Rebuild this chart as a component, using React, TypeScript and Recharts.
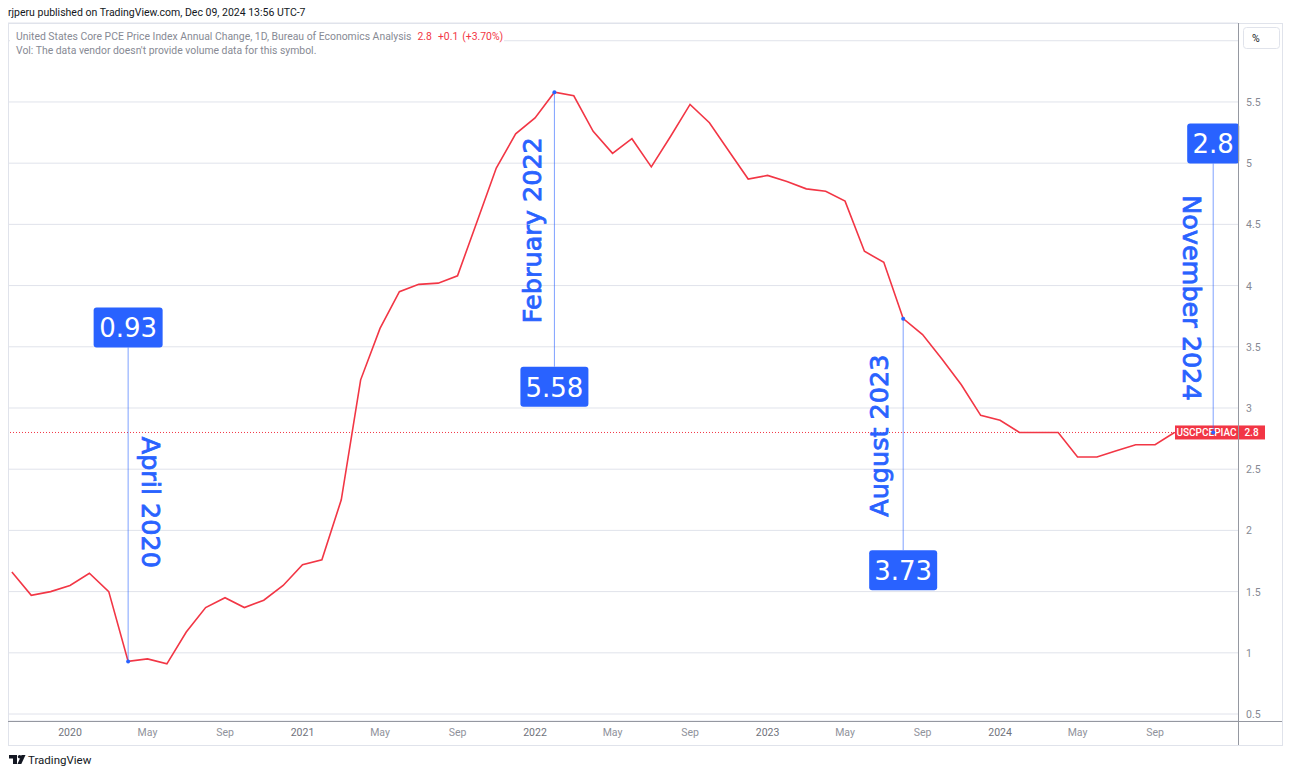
import React from "react";
import {
  LineChart,
  Line,
  XAxis,
  YAxis,
  CartesianGrid,
  ReferenceLine,
  ReferenceDot,
} from "recharts";

// ---------- DATA ----------
const months = [
  "2019-10", "2019-11", "2019-12",
  "2020-01", "2020-02", "2020-03", "2020-04", "2020-05", "2020-06",
  "2020-07", "2020-08", "2020-09", "2020-10", "2020-11", "2020-12",
  "2021-01", "2021-02", "2021-03", "2021-04", "2021-05", "2021-06",
  "2021-07", "2021-08", "2021-09", "2021-10", "2021-11", "2021-12",
  "2022-01", "2022-02", "2022-03", "2022-04", "2022-05", "2022-06",
  "2022-07", "2022-08", "2022-09", "2022-10", "2022-11", "2022-12",
  "2023-01", "2023-02", "2023-03", "2023-04", "2023-05", "2023-06",
  "2023-07", "2023-08", "2023-09", "2023-10", "2023-11", "2023-12",
  "2024-01", "2024-02", "2024-03", "2024-04", "2024-05", "2024-06",
  "2024-07", "2024-08", "2024-09", "2024-10",
];

const corePce = [
  1.66, 1.47, 1.5,
  1.55, 1.65, 1.5, 0.93, 0.95, 0.91,
  1.17, 1.37, 1.45, 1.37, 1.43, 1.55,
  1.72, 1.76, 2.25, 3.23, 3.65, 3.95,
  4.01, 4.02, 4.08, 4.52, 4.96, 5.24,
  5.37, 5.58, 5.55, 5.26, 5.08, 5.2,
  4.97, 5.22, 5.48, 5.33, 5.1, 4.87,
  4.9, 4.85, 4.79, 4.77, 4.69, 4.28,
  4.19, 3.73, 3.6, 3.4, 3.19, 2.94,
  2.9, 2.8, 2.8, 2.8, 2.6, 2.6,
  2.65, 2.7, 2.7, 2.8,
];

const xTickMonths = [
  "2020-01", "2020-05", "2020-09",
  "2021-01", "2021-05", "2021-09",
  "2022-01", "2022-05", "2022-09",
  "2023-01", "2023-05", "2023-09",
  "2024-01", "2024-05", "2024-09",
];
const xTickLabels = [
  "2020", "May", "Sep",
  "2021", "May", "Sep",
  "2022", "May", "Sep",
  "2023", "May", "Sep",
  "2024", "May", "Sep",
];

const yTicks = [0.5, 1, 1.5, 2, 2.5, 3, 3.5, 4, 4.5, 5, 5.5, 6];
const yTickLabels = ["0.5", "1", "1.5", "2", "2.5", "3", "3.5", "4", "4.5", "5", "5.5", ""];

const annotationMonths = ["2020-04", "2022-02", "2023-08", "2024-12"];
const annotationValues = [0.93, 5.58, 3.73, 2.8];
const annotationBoxText = ["0.93", "5.58", "3.73", "2.8"];
const annotationTitles = ["April 2020", "February 2022", "August 2023", "November 2024"];

const seriesSymbol = "USCPCEPIAC";
const lastValueText = "2.8";

// ---------- HELPERS ----------
const monthIndex = (m: string) => {
  const [y, mo] = m.split("-").map(Number);
  return (y - 2020) * 12 + (mo - 1);
};

const data = months.map((m, i) => ({ t: monthIndex(m), v: corePce[i] }));
const xTicks = xTickMonths.map(monthIndex);
const lastValue = corePce[corePce.length - 1];

// layout (pixels) for annotations
const annotationLayout = [
  { boxDy: -334, boxW: 69, textDx: 23, textDy: -159, rotate: 90 },
  { boxDy: 294.5, boxW: 68, textDx: -22, textDy: 138, rotate: -90 },
  { boxDy: 251.5, boxW: 68, textDx: -24, textDy: 117, rotate: -90 },
  { boxDy: -289, boxW: 52, textDx: -21, textDy: -134.5, rotate: 90 },
];

const BLUE = "#2962ff";
const RED = "#f23645";
const FONT = "Roboto, 'Liberation Sans', sans-serif";
const ANNO_FONT = "'DejaVu Sans', sans-serif";

const XTick = (props: any) => {
  const { x, y, payload } = props;
  const idx = xTicks.indexOf(payload.value);
  const label = idx >= 0 ? xTickLabels[idx] : "";
  const isYear = /^\d{4}$/.test(label);
  return (
    <text
      x={x}
      y={y + 15}
      textAnchor="middle"
      fontSize={10.5}
      fontFamily={FONT}
      fill={isYear ? "#6f727c" : "#8f929b"}
    >
      {label}
    </text>
  );
};

const YTick = (props: any) => {
  const { x, y, payload } = props;
  const idx = yTicks.indexOf(payload.value);
  const label = idx >= 0 ? yTickLabels[idx] : "";
  if (!label) return <g />;
  return (
    <text x={x + 8} y={y + 4} textAnchor="start" fontSize={10.5} fontFamily={FONT} fill="#868993">
      {label}
    </text>
  );
};

const makeAnnotation = (i: number) => (p: any) => {
  const { cx, cy } = p;
  const L = annotationLayout[i];
  const boxH = 40;
  const boxCy = cy + L.boxDy;
  const lineEnd = L.boxDy < 0 ? boxCy + boxH / 2 : boxCy - boxH / 2;
  const tx = cx + L.textDx;
  const ty = cy + L.textDy;
  return (
    <g>
      <line x1={cx} y1={cy} x2={cx} y2={lineEnd} stroke={BLUE} strokeOpacity={0.6} strokeWidth={1} />
      <circle cx={cx} cy={cy} r={2} fill={BLUE} />
      <rect x={cx - L.boxW / 2} y={boxCy - boxH / 2} width={L.boxW} height={boxH} rx={3} ry={3} fill={BLUE} />
      <text
        x={cx}
        y={boxCy + 1}
        textAnchor="middle"
        dominantBaseline="central"
        fontSize={26}
        fontFamily={ANNO_FONT}
        fill="#ffffff"
      >
        {annotationBoxText[i]}
      </text>
      <text
        x={tx}
        y={ty}
        transform={`rotate(${L.rotate} ${tx} ${ty})`}
        textAnchor="middle"
        dominantBaseline="central"
        fontSize={25.5}
        fontFamily={ANNO_FONT}
        fill={BLUE}
        stroke={BLUE}
        strokeWidth={0.8}
      >
        {annotationTitles[i]}
      </text>
    </g>
  );
};

const PriceLabel = (props: any) => {
  const vb = props.viewBox || {};
  const right = (vb.x || 0) + (vb.width || 0);
  const y = vb.y || 0;
  return (
    <g>
      <rect x={right - 63} y={y - 7} width={63} height={14} fill={RED} />
      <rect x={right} y={y - 7} width={27} height={14} fill={RED} />
      <text x={right - 31.5} y={y + 3.5} textAnchor="middle" fontSize={10} fontFamily={FONT} fontWeight={500} fill="#fff">
        {seriesSymbol}
      </text>
      <text x={right + 13.5} y={y + 3.5} textAnchor="middle" fontSize={10} fontFamily={FONT} fontWeight={500} fill="#fff">
        {lastValueText}
      </text>
    </g>
  );
};

export default function App() {
  return (
    <div style={{ position: "relative", width: 1292, height: 775, background: "#fff", overflow: "hidden" }}>
      <style>{`body{margin:0;overflow:hidden;background:#fff}`}</style>
      {/* background decoration */}
      <svg width={1292} height={775} style={{ position: "absolute", left: 0, top: 0 }}>
        <text x={8} y={16} fontSize={10.5} fontFamily={FONT} fill="#131722">
          rjperu published on TradingView.com, Dec 09, 2024 13:56 UTC-7
        </text>
        <rect x={8.5} y={23.5} width={1274} height={722} fill="#fff" stroke="#e0e3eb" />
        <rect x={1243.5} y={27.5} width={36} height={21} rx={3} fill="#fff" stroke="#e0e3eb" />
        <text x={1252} y={42} fontSize={10.5} fontFamily={FONT} fill="#131722">%</text>
        {/* logo */}
        <path d="M9 755 h8 v9 h-4 v-5.5 h-4 z" fill="#131722" />
        <circle cx={19.6} cy={756.8} r={1.8} fill="#131722" />
        <path d="M21.5 755 h4 l-4.2 9 h-3.8 z" fill="#131722" />
        <text x={28} y={764} fontSize={11.5} fontFamily={FONT} fill="#131722">TradingView</text>
      </svg>

      <div style={{ position: "absolute", left: 0, top: 0 }}>
        <LineChart width={1292} height={775} data={data} margin={{ top: 23, right: 0, bottom: 30, left: 8 }}>
          <CartesianGrid vertical={false} stroke="#e0e3eb" />
          <XAxis
            dataKey="t"
            type="number"
            domain={[-3.2, 60.28]}
            allowDataOverflow
            ticks={xTicks}
            interval={0}
            tick={<XTick />}
            tickSize={0}
            tickMargin={0}
            axisLine={false}
            tickLine={false}
            height={24}
          />
          <YAxis
            orientation="right"
            type="number"
            domain={[0.443, 6.145]}
            allowDataOverflow
            ticks={yTicks}
            interval={0}
            tick={<YTick />}
            tickSize={0}
            tickMargin={0}
            axisLine={false}
            tickLine={false}
            width={54}
          />
          <ReferenceLine
            y={lastValue}
            stroke={RED}
            strokeDasharray="1 2"
            strokeWidth={1}
            label={PriceLabel}
            ifOverflow="visible"
          />
          <Line
            type="linear"
            dataKey="v"
            stroke={RED}
            strokeWidth={1.6}
            dot={false}
            activeDot={false}
            isAnimationActive={false}
          />
          {annotationMonths.map((m, i) => (
            <ReferenceDot
              key={m}
              x={monthIndex(m)}
              y={annotationValues[i]}
              r={2}
              ifOverflow="visible"
              shape={makeAnnotation(i)}
            />
          ))}
        </LineChart>
      </div>

      {/* overlay: axis lines and legend */}
      <svg width={1292} height={775} style={{ position: "absolute", left: 0, top: 0, pointerEvents: "none" }}>
        <line x1={1238.5} y1={23} x2={1238.5} y2={745} stroke="#9598a1" strokeWidth={1} />
        <line x1={8} y1={721.5} x2={1282} y2={721.5} stroke="#9598a1" strokeWidth={1} />
        <rect x={10} y={29} width={494} height={14} fill="#fff" />
        <text x={16} y={40} fontSize={10.4} fontFamily={FONT} fill="#878a94">
          United States Core PCE Price Index Annual Change, 1D, Bureau of Economics Analysis
          <tspan fill={RED} dx={6}>2.8</tspan>
          <tspan fill={RED} dx={6}>+0.1</tspan>
          <tspan fill={RED} dx={4}>(+3.70%)</tspan>
        </text>
        <text x={16} y={54} fontSize={10.4} fontFamily={FONT} fill="#878a94">
          Vol: The data vendor doesn't provide volume data for this symbol.
        </text>
      </svg>
    </div>
  );
}
